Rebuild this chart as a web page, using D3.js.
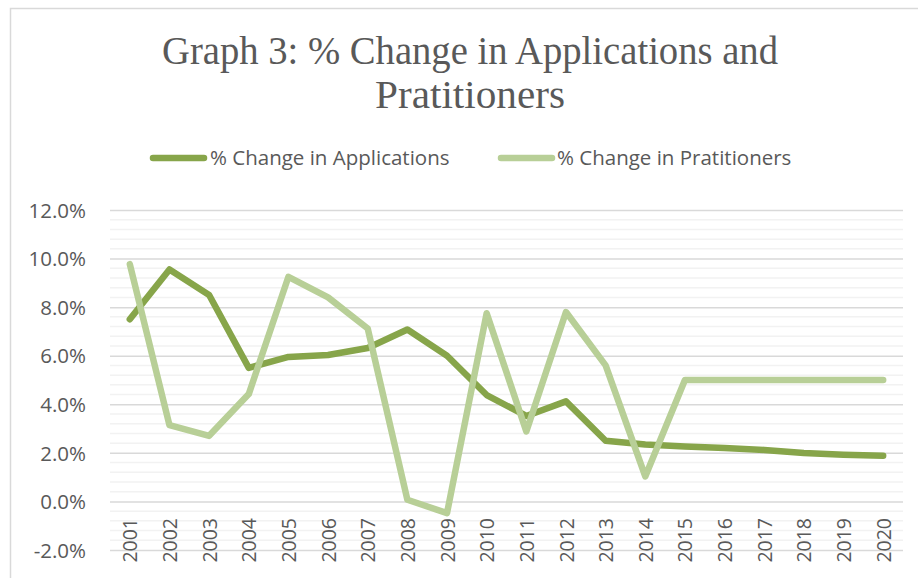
<!DOCTYPE html>
<html><head><meta charset="utf-8">
<script src="https://cdn.jsdelivr.net/npm/d3@7"></script>
<style>html,body{margin:0;padding:0;background:#fff;}svg{display:block;}</style>
</head><body>
<svg id="chart" width="918" height="578"></svg>
<script>
const years = ["2001","2002","2003","2004","2005","2006","2007","2008","2009","2010","2011","2012","2013","2014","2015","2016","2017","2018","2019","2020"];
const applications = [7.5,9.55,8.5,5.5,5.95,6.03,6.32,7.08,6.0,4.38,3.52,4.12,2.5,2.34,2.26,2.2,2.12,1.99,1.92,1.88];
const practitioners = [9.77,3.14,2.7,4.42,9.25,8.4,7.12,0.07,-0.48,7.75,2.88,7.8,5.6,1.03,5.0,5.0,5.0,5.0,5.0,5.0];
const seriesNames = ["% Change in Applications","% Change in Pratitioners"];
const yTicks = [-2,0,2,4,6,8,10,12];
const titleLines = ["Graph 3: % Change in Applications and","Pratitioners"];

const colors = ["#87A54A","#B8CF97"];
const textColor = "#595959";
const svg = d3.select("#chart");

// chart border
svg.append("rect").attr("x",10.5).attr("y",8.5).attr("width",930).attr("height",600)
  .attr("fill","none").attr("stroke","#d9d9d9").attr("stroke-width",1.5);

const plot = {left:110, right:903, top:210, bottom:550};
const x = d3.scalePoint().domain(years).range([plot.left, plot.right]).padding(0.5);
const y = d3.scaleLinear().domain([-2,12]).range([plot.bottom, plot.top]);

// minor gridlines
const minor = d3.range(-2, 12.0001, 0.4).map(v => +v.toFixed(1)).filter(v => Math.abs(v/2 - Math.round(v/2)) > 1e-6);
svg.append("g").selectAll("line").data(minor).join("line")
  .attr("x1",plot.left).attr("x2",plot.right)
  .attr("y1",d=>y(d)).attr("y2",d=>y(d))
  .attr("stroke","#f2f2f2").attr("stroke-width",1.5);

// major gridlines via axis
const fmt = d => (d < 0 ? "-" : "") + Math.abs(d).toFixed(1) + "%";
const yAxis = svg.append("g").attr("transform",`translate(${plot.left},0)`)
  .call(d3.axisLeft(y).tickValues(yTicks).tickSize(-(plot.right-plot.left)).tickFormat(fmt));
yAxis.select(".domain").remove();
yAxis.selectAll(".tick line").attr("stroke","#d9d9d9").attr("stroke-width",1.5);
yAxis.selectAll(".tick text").attr("x",-24).attr("dy","0.35em")
  .attr("fill",textColor).attr("font-family","'Open Sans', sans-serif").attr("font-size","20.5px");

// x axis labels
const xAxis = svg.append("g").attr("transform",`translate(0,${plot.bottom})`)
  .call(d3.axisBottom(x).tickSize(0));
xAxis.select(".domain").remove();
xAxis.selectAll(".tick text")
  .attr("transform","rotate(-90)")
  .attr("text-anchor","end")
  .attr("x", -(518 - plot.bottom)).attr("y",0)
  .attr("dy","0.36em")
  .attr("fill",textColor).attr("font-family","'Open Sans', sans-serif").attr("font-size","19.5px");

// lines
const line = d3.line().x((d,i)=>x(years[i])).y(d=>y(d));
[applications, practitioners].forEach((s,k)=>{
  svg.append("path").datum(s).attr("d",line)
    .attr("fill","none").attr("stroke",colors[k]).attr("stroke-width",6.5)
    .attr("stroke-linejoin","round").attr("stroke-linecap","round");
});

// title
const titleY = [64,108];
const titleW = [616,190];
titleLines.forEach((t,i)=>{
  svg.append("text").attr("x",470).attr("y",titleY[i]).attr("text-anchor","middle")
    .attr("font-family","'Liberation Serif', serif").attr("font-size","39px").attr("fill",textColor)
    .attr("textLength",titleW[i]).attr("lengthAdjust","spacingAndGlyphs").text(t);
});

// legend
const legendItems = [{x1:150,x2:207,tx:210},{x1:498,x2:555,tx:557}];
legendItems.forEach((L,k)=>{
  svg.append("line").attr("x1",L.x1+3).attr("x2",L.x2-3).attr("y1",158).attr("y2",158)
    .attr("stroke",colors[k]).attr("stroke-width",6.5).attr("stroke-linecap","round");
  svg.append("text").attr("x",L.tx).attr("y",165).attr("font-family","'Open Sans', sans-serif")
    .attr("font-size","20.5px").attr("fill",textColor).text(seriesNames[k]);
});
</script>
</body></html>
